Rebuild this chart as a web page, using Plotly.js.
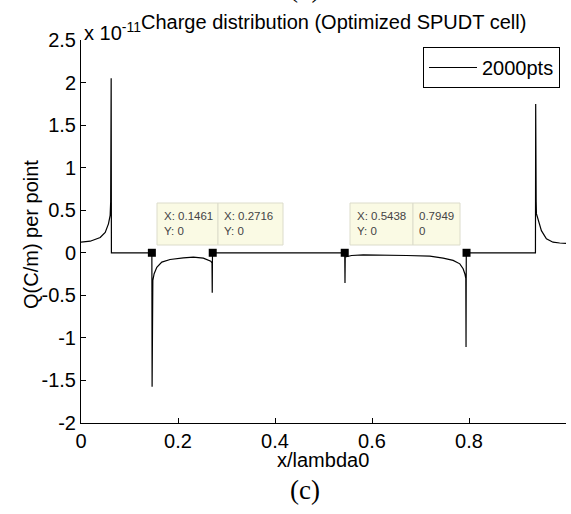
<!DOCTYPE html>
<html>
<head>
<meta charset="utf-8">
<script src="https://cdn.plot.ly/plotly-3.0.1.min.js"></script>
<style>html,body{margin:0;padding:0;background:#fff;}#chart{width:571px;height:514px;}</style>
</head>
<body>
<div id="chart"></div>
<script>
// ---- data (charge per point, units of 1e-11 C/m) ----
const xPos = [
  0, 0.019, 0.0396, 0.0499, 0.0566, 0.0601, 0.0612, 0.0617, 0.0622, 0.0627,
  0.1461, 0.1466, 0.1471, 0.1476, 0.1481, 0.1508, 0.1563, 0.1666, 0.1837, 0.2111, 0.2317, 0.2523, 0.2626, 0.2676, 0.2701, 0.2706, 0.2711,
  0.5438, 0.5443, 0.5448, 0.5580, 0.5819, 0.6713, 0.7193, 0.7467, 0.7673, 0.7811, 0.7879, 0.7914, 0.7934, 0.7939, 0.7944,
  0.9370, 0.9375, 0.9380, 0.9385, 0.9390, 0.9493, 0.9596, 0.9732, 0.9870, 1.0
];
const qVal = [
  0.124, 0.136, 0.18, 0.24, 0.34, 0.44, 0.6, 0.89, 2.05, 0,
  0, -1.575, -0.676, -0.5, -0.325, -0.246, -0.17, -0.11, -0.079, -0.059, -0.051, -0.063, -0.082, -0.098, -0.12, -0.47, 0,
  0, -0.356, -0.05, -0.032, -0.024, -0.032, -0.04, -0.063, -0.09, -0.13, -0.188, -0.246, -0.3, -1.107, 0,
  0, 1.747, 0.886, 0.6, 0.46, 0.26, 0.164, 0.124, 0.115, 0.11
];
const seriesName = '2000pts';
// data tips
const tipX = [0.1461, 0.2716, 0.5438, 0.7949];
const tipY = [0, 0, 0, 0];
// tick labels
const xTicks = [0, 0.2, 0.4, 0.6, 0.8, 1];
const xTickText = ['0', '0.2', '0.4', '0.6', '0.8', '1'];
const yTicks = [-2, -1.5, -1, -0.5, 0, 0.5, 1, 1.5, 2, 2.5];
const yTickText = ['-2', '-1.5', '-1', '-0.5', '0', '0.5', '1', '1.5', '2', '2.5'];

// ---- layout helpers (pixel -> paper) ----
const L = 81, R = 5, T = 40, B = 91, W = 571, H = 514;
const PW = W - L - R, PH = H - T - B;
const px2x = p => (p - L) / PW;
const py2y = p => (H - B - p) / PH;

const FONT = 'Liberation Sans, Arial, sans-serif';

// datatip boxes (pixel positions)
const tipBoxes = [
  {x0: 157, x1: 218, tx: 162, label: true},
  {x0: 218, x1: 283, tx: 222, label: true},
  {x0: 350, x1: 413, tx: 355, label: true},
  {x0: 413, x1: 460, tx: 417, label: false}
];
const boxTop = 203, boxBot = 245;

const shapes = [];
const annotations = [];
tipBoxes.forEach((b, i) => {
  shapes.push({type: 'rect', xref: 'paper', yref: 'paper', layer: 'above',
    x0: px2x(b.x0), x1: px2x(b.x1), y0: py2y(boxBot), y1: py2y(boxTop),
    fillcolor: '#fafae4', line: {color: '#dcdccb', width: 1}});
  const txt = b.label ? ('X: ' + tipX[i] + '<br>Y: ' + tipY[i]) : (tipX[i] + '<br>' + tipY[i]);
  annotations.push({xref: 'paper', yref: 'paper', x: px2x(b.tx), y: py2y(boxTop + 5),
    xanchor: 'left', yanchor: 'top', align: 'left', showarrow: false, text: txt,
    font: {family: FONT, size: 11.5, color: '#444'}});
});
// exponent label
annotations.push({xref: 'paper', yref: 'paper', x: px2x(82), y: py2y(31), xanchor: 'left', yanchor: 'middle',
  showarrow: false, text: 'x 10<sup>-11</sup>', font: {family: FONT, size: 20, color: '#000'}});
// y axis title
annotations.push({xref: 'paper', yref: 'paper', x: px2x(31), y: py2y(235), xanchor: 'center', yanchor: 'middle',
  textangle: -90, showarrow: false, text: 'Q(C/m) per point', font: {family: FONT, size: 20, color: '#000'}});
// x axis title
annotations.push({xref: 'paper', yref: 'paper', x: px2x(323), y: py2y(460), xanchor: 'center', yanchor: 'middle',
  showarrow: false, text: 'x/lambda0', font: {family: FONT, size: 20, color: '#000'}});
// caption (c)
annotations.push({xref: 'paper', yref: 'paper', x: px2x(305), y: py2y(490), xanchor: 'center', yanchor: 'middle',
  showarrow: false, text: '(c)', font: {family: 'Liberation Serif, Times New Roman, serif', size: 27, color: '#000'}});
// remnant of previous caption at the very top (cut off by the picture edge, as in the original)
annotations.push({xref: 'paper', yref: 'paper', x: px2x(304), y: py2y(-12), xanchor: 'center', yanchor: 'middle',
  showarrow: false, text: '(b)', font: {family: 'Liberation Serif, Times New Roman, serif', size: 27, color: '#000'}});

const traces = [
  {x: xPos, y: qVal, type: 'scatter', mode: 'lines', name: seriesName,
   line: {color: '#000', width: 1.2}},
  {x: tipX, y: tipY, type: 'scatter', mode: 'markers', showlegend: false,
   marker: {symbol: 'square', size: 8, color: '#000'}}
];

const axisCommon = {showgrid: false, zeroline: false, showline: true, linecolor: '#000', linewidth: 1,
  ticks: 'inside', ticklen: 5, tickcolor: '#000', tickwidth: 1, mirror: false,
  tickfont: {family: FONT, size: 20, color: '#000'}, tickmode: 'array'};

const layout = {
  width: W, height: H,
  margin: {l: L, r: R, t: T, b: B, pad: 0},
  paper_bgcolor: '#fff', plot_bgcolor: '#fff',
  title: {text: 'Charge distribution (Optimized SPUDT cell)', font: {family: FONT, size: 20, color: '#000'},
    xref: 'container', yref: 'container', x: 141 / W, xanchor: 'left', y: 1 - 22 / H, yanchor: 'middle'},
  xaxis: Object.assign({}, axisCommon, {range: [0, 1], tickvals: xTicks, ticktext: xTickText}),
  yaxis: Object.assign({}, axisCommon, {range: [-2, 2.5], tickvals: yTicks, ticktext: yTickText}),
  showlegend: true,
  legend: {x: px2x(560), xanchor: 'right', y: py2y(47), yanchor: 'top', bgcolor: '#fff',
    bordercolor: '#000', borderwidth: 1, font: {family: FONT, size: 20, color: '#000'}, itemwidth: 48},
  shapes: shapes, annotations: annotations
};

Plotly.newPlot('chart', traces, layout, {staticPlot: true, displayModeBar: false});
</script>
</body>
</html>
